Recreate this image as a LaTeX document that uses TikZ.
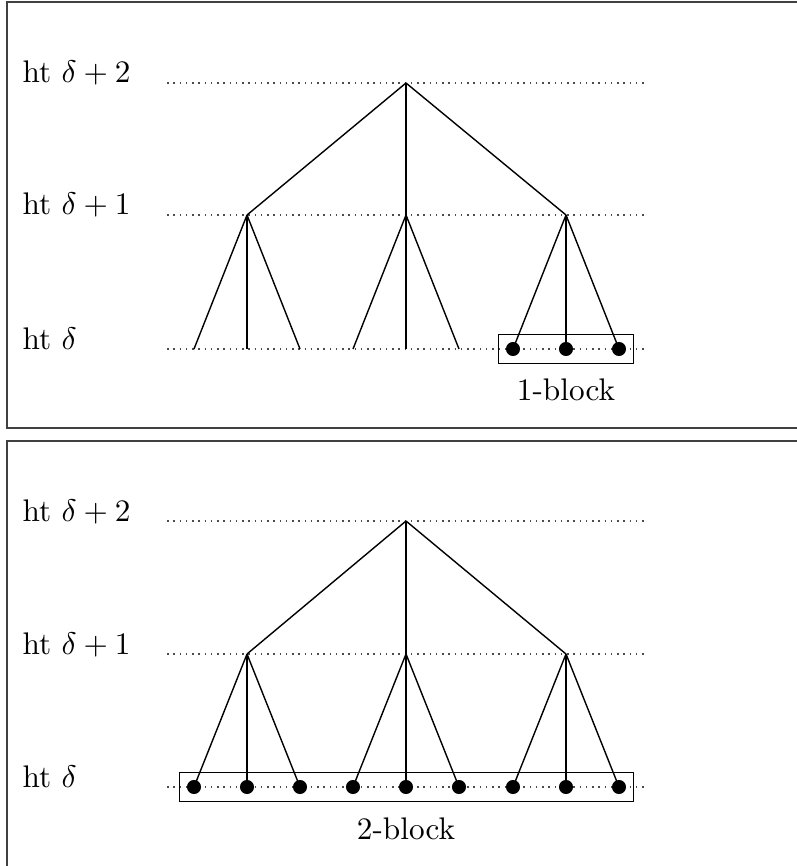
\documentclass[tikz,border=0pt]{standalone}
\usetikzlibrary{fit}
\begin{document}
\begin{tikzpicture}[x=0.32pt,y=-0.32pt,
  edge/.style={line width=0.45pt},
  levelline/.style={line width=0.5pt, draw=black!70, dash pattern=on 0.5pt off 1.5pt},
  frame/.style={line width=0.65pt, draw=black!75},
  leaf/.style={circle, fill=black, inner sep=0pt, minimum size=4.5pt},
  block/.style={draw, line width=0.45pt, inner xsep=2.1pt, inner ysep=2.2pt},
  lbl/.style={anchor=base west, inner sep=0pt}]
\clip (0,0) rectangle (797,866);
% ---------- top panel ----------
\draw[frame] (7,2) rectangle (830,428);
\node[lbl] (a-t2) at (22,83) {ht $\delta+2$};
\node[lbl] (a-t1) at (22,215) {ht $\delta+1$};
\node[lbl] (a-t0) at (22,349) {ht $\delta$};
\coordinate (a-s2) at (167,83);  \coordinate (a-e2) at (648,83);
\coordinate (a-s1) at (167,215); \coordinate (a-e1) at (648,215);
\coordinate (a-s0) at (167,349); \coordinate (a-e0) at (648,349);
\draw[levelline] (a-s2) -- (a-e2);
\draw[levelline] (a-s1) -- (a-e1);
\draw[levelline] (a-s0) -- (a-e0);
\coordinate (a-r) at (406,83);
\coordinate (a-m1) at (247,215);
\coordinate (a-m2) at (406,215);
\coordinate (a-m3) at (566,215);
\coordinate (a-l1) at (194,349);
\coordinate (a-l2) at (247,349);
\coordinate (a-l3) at (300,349);
\coordinate (a-l4) at (353,349);
\coordinate (a-l5) at (406,349);
\coordinate (a-l6) at (459,349);
\node[leaf] (a-l7) at (513,349) {};
\node[leaf] (a-l8) at (566,349) {};
\node[leaf] (a-l9) at (619,349) {};
\draw[edge] (a-r) -- (a-m1);
\draw[edge] (a-r) -- (a-m2);
\draw[edge] (a-r) -- (a-m3);
\draw[edge] (a-m1) -- (a-l1);
\draw[edge] (a-m1) -- (a-l2);
\draw[edge] (a-m1) -- (a-l3);
\draw[edge] (a-m2) -- (a-l4);
\draw[edge] (a-m2) -- (a-l5);
\draw[edge] (a-m2) -- (a-l6);
\draw[edge] (a-m3) -- (a-l7.center);
\draw[edge] (a-m3) -- (a-l8.center);
\draw[edge] (a-m3) -- (a-l9.center);
\node[block, fit=(a-l7)(a-l9)] (a-box) {};
\node[anchor=base] (a-lab) at (566,400) {1-block};
% ---------- bottom panel ----------
\draw[frame] (7,441) rectangle (830,890);
\node[lbl] (b-t2) at (22,521) {ht $\delta+2$};
\node[lbl] (b-t1) at (22,654) {ht $\delta+1$};
\node[lbl] (b-t0) at (22,787) {ht $\delta$};
\coordinate (b-s2) at (167,521); \coordinate (b-e2) at (648,521);
\coordinate (b-s1) at (167,654); \coordinate (b-e1) at (648,654);
\coordinate (b-s0) at (167,787); \coordinate (b-e0) at (648,787);
\draw[levelline] (b-s2) -- (b-e2);
\draw[levelline] (b-s1) -- (b-e1);
\draw[levelline] (b-s0) -- (b-e0);
\coordinate (b-r) at (406,521);
\coordinate (b-m1) at (247,654);
\coordinate (b-m2) at (406,654);
\coordinate (b-m3) at (566,654);
\node[leaf] (b-l1) at (194,787) {};
\node[leaf] (b-l2) at (247,787) {};
\node[leaf] (b-l3) at (300,787) {};
\node[leaf] (b-l4) at (353,787) {};
\node[leaf] (b-l5) at (406,787) {};
\node[leaf] (b-l6) at (459,787) {};
\node[leaf] (b-l7) at (513,787) {};
\node[leaf] (b-l8) at (566,787) {};
\node[leaf] (b-l9) at (619,787) {};
\draw[edge] (b-r) -- (b-m1);
\draw[edge] (b-r) -- (b-m2);
\draw[edge] (b-r) -- (b-m3);
\draw[edge] (b-m1) -- (b-l1.center);
\draw[edge] (b-m1) -- (b-l2.center);
\draw[edge] (b-m1) -- (b-l3.center);
\draw[edge] (b-m2) -- (b-l4.center);
\draw[edge] (b-m2) -- (b-l5.center);
\draw[edge] (b-m2) -- (b-l6.center);
\draw[edge] (b-m3) -- (b-l7.center);
\draw[edge] (b-m3) -- (b-l8.center);
\draw[edge] (b-m3) -- (b-l9.center);
\node[block, fit=(b-l1)(b-l9)] (b-box) {};
\node[anchor=base] (b-lab) at (406,839) {2-block};
\end{tikzpicture}
\end{document}
